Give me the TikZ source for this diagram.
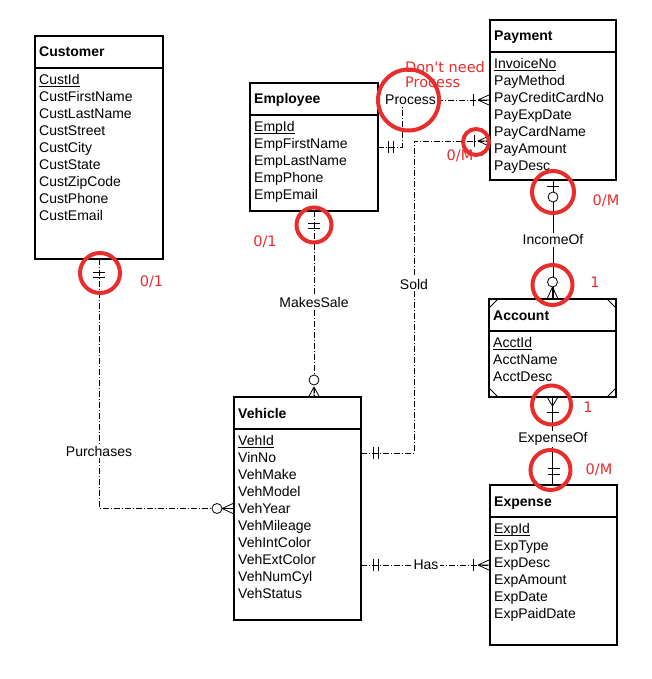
\documentclass[tikz,border=0pt]{standalone}
\usepackage{fontspec}
\setmainfont{Liberation Sans}
\newfontfamily\annotfont{DejaVu Sans}
\definecolor{annot}{RGB}{232,45,45}
\newcommand\keyul[1]{\underline{\smash{#1}}}
\tikzset{
  ebox/.style={draw, line width=1.1pt, inner sep=0pt, outer sep=0pt, fill=white},
  etext/.style={anchor=base west, inner sep=0pt, font=\fontsize{14}{17}\selectfont},
  ttext/.style={anchor=base west, inner sep=0pt, font=\fontsize{14}{17}\selectfont\bfseries},
  rel/.style={line width=0.8pt, dash pattern=on 6pt off 2pt on 1pt off 2pt},
  solidrel/.style={line width=0.8pt},
  lbl/.style={fill=white, inner sep=1.5pt, font=\fontsize{14}{17}\selectfont},
  redtext/.style={text=annot, inner sep=0pt, font=\annotfont\fontsize{14.5}{15}\selectfont},
  redring/.style={draw=annot, line width=4pt},
  pics/crow/.style={code={\draw[solid, line width=0.8pt] (#1,0) -- (0,-5.5) (#1,0) -- (0,0) (#1,0) -- (0,5.5);}},
  pics/bar/.style={code={\draw[solid, line width=0.8pt] (#1,-6) -- (#1,6);}},
  pics/ocirc/.style={code={\draw[solid, line width=0.8pt, fill=white] (#1,0) circle[radius=5];}},
}
\newcommand\erentity[8]{%
  \node[ebox, anchor=north west, minimum width=#4pt-#2pt, minimum height=#5pt-#3pt] (#1) at (#2,#3) {};
  \draw[line width=1.5pt] (#2,{#3+32}) -- (#4,{#3+32});
  \node[ttext] (#1-t) at ({#2+4},{#3+21}) {#6};
  \node[etext] (#1-k) at ({#2+4},{#3+48.5}) {\keyul{#7}};
  \foreach \a [count=\i] in {#8} {\node[etext] (#1-\i) at ({#2+4},{#3+48.5+17*\i}) {\a};}
}
\begin{document}
\begin{tikzpicture}[x=1pt,y=-1pt]
\useasboundingbox[fill=white] (0,0) rectangle (652,679);

% entities
\erentity{cust}{35}{36}{163}{259}{Customer}{CustId}{CustFirstName,CustLastName,CustStreet,CustCity,CustState,CustZipCode,CustPhone,CustEmail}
\erentity{emp}{250}{83}{378}{211}{Employee}{EmpId}{EmpFirstName,EmpLastName,EmpPhone,EmpEmail}
\erentity{pay}{490}{20}{616}{180}{Payment}{InvoiceNo}{PayMethod,PayCreditCardNo,PayExpDate,PayCardName,PayAmount,PayDesc}
\erentity{acct}{489}{299}{616}{397}{Account}{AcctId}{AcctName,AcctDesc}
\erentity{veh}{234}{397}{361}{620}{Vehicle}{VehId}{VinNo,VehMake,VehModel,VehYear,VehMileage,VehIntColor,VehExtColor,VehNumCyl,VehStatus}
\erentity{exp}{490}{485}{617}{645}{Expense}{ExpId}{ExpType,ExpDesc,ExpAmount,ExpDate,ExpPaidDate}

% account corner cuts
\draw[line width=0.8pt] ([yshift=-9pt]acct.north west) -- ([xshift=9pt]acct.north west);
\draw[line width=0.8pt] ([yshift=-9pt]acct.north east) -- ([xshift=-9pt]acct.north east);
\draw[line width=0.8pt] ([yshift=9pt]acct.south west) -- ([xshift=9pt]acct.south west);
\draw[line width=0.8pt] ([yshift=9pt]acct.south east) -- ([xshift=-9pt]acct.south east);

% relationship labels
\node[lbl] (proc) at (410.5,100) {Process};

% connectors
\draw[rel] (cust.south) |- (veh.west);
\draw[rel] (emp.south) -- (emp.south |- veh.north);
\draw[rel] (emp.east) -| ([xshift=-8pt]proc.south);
\draw[rel] (proc.east) -- (pay.west);
\draw[rel] ([yshift=55.5pt]veh.east) -| (414,141) -- ([yshift=-41pt]pay.west);
\draw[rel] ([yshift=-56.5pt]veh.east) -- (exp.west);
\draw[solidrel] (pay.south) -- (pay.south |- acct.north);
\draw[solidrel] (acct.south) -- (acct.south |- exp.north);

\node[lbl] (lpurch) at (99,451) {Purchases};
\node[lbl] (lmake) at (314,302) {MakesSale};
\node[lbl] (lsold) at (414,284) {Sold};
\node[lbl] (linc) at (553,240) {IncomeOf};
\node[lbl] (lexpof) at (553,439) {ExpenseOf};
\node[lbl] (lhas) at (426,565) {Has};

% cardinality symbols
\pic[rotate=-90] at (cust.south) {bar=13};
\pic[rotate=-90] at (cust.south) {bar=18};
\pic[rotate=180] at (veh.west) {crow=12};
\pic[rotate=180] at (veh.west) {ocirc=17};
\pic[rotate=-90] at (emp.south) {bar=12};
\pic[rotate=-90] at (emp.south) {bar=17};
\pic[rotate=90] at (emp.south |- veh.north) {crow=10};
\pic[rotate=90] at (emp.south |- veh.north) {ocirc=17};
\pic at (emp.east) {bar=10};
\pic at (emp.east) {bar=15};
\pic[rotate=180] at (pay.west) {crow=12};
\pic[rotate=180] at (pay.west) {bar=17};
\pic[rotate=180] at ([yshift=-41pt]pay.west) {crow=12};
\pic[rotate=180] at ([yshift=-41pt]pay.west) {bar=16};
\pic at ([yshift=55.5pt]veh.east) {bar=12};
\pic at ([yshift=55.5pt]veh.east) {bar=17};
\pic at ([yshift=-56.5pt]veh.east) {bar=12};
\pic at ([yshift=-56.5pt]veh.east) {bar=17};
\pic[rotate=180] at (exp.west) {crow=12};
\pic[rotate=180] at (exp.west) {bar=17};
\pic[rotate=-90] at (pay.south) {bar=6};
\pic[rotate=-90] at (pay.south) {ocirc=17};
\pic[rotate=90] at (acct.north) {crow=12};
\pic[rotate=90] at (acct.north) {ocirc=17};
\pic[rotate=-90] at (acct.south) {crow=9};
\pic[rotate=-90] at (acct.south) {bar=15};
\pic[rotate=90] at (exp.north) {bar=11};
\pic[rotate=90] at (exp.north) {bar=17};

% annotations
\node[redtext] (r1) at (151.5,282) {0/1};
\node[redtext] (r2) at (265,242) {0/1};
\node[redtext, anchor=west, align=left] (r3) at (405,74.5) {Don't need\\Process};
\node[redtext] (r4) at (460,156) {0/M};
\node[redtext] (r5) at (606,201) {0/M};
\node[redtext] (r6) at (595,282) {1};
\node[redtext] (r7) at (588,407) {1};
\node[redtext] (r8) at (599,470) {0/M};

\draw[redring] (100,273) circle[radius=20];
\draw[redring] (314,225) circle[radius=17.5];
\draw[redring] (408.5,100) circle[radius=30.5];
\draw[redring] (476,142) circle[radius=13];
\draw[redring] (553,192) circle[radius=21];
\draw[redring] (552.5,285) circle[radius=20];
\draw[redring] (551.5,405) circle[radius=19.5];
\draw[redring] (550.5,470) circle[radius=20];
\end{tikzpicture}
\end{document}
